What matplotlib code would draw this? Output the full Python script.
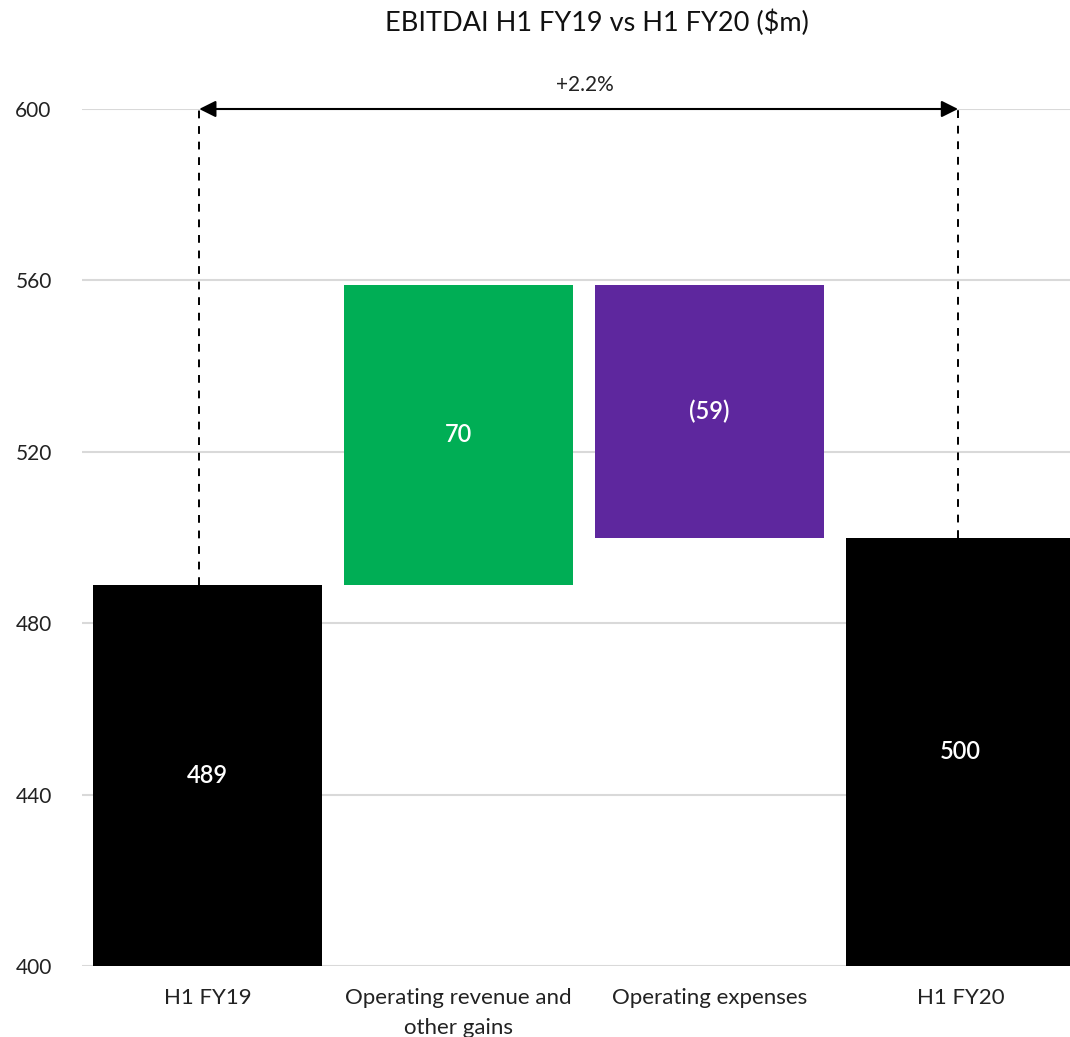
import matplotlib
matplotlib.use("Agg")
import matplotlib.pyplot as plt

plt.rcParams['font.family'] = ['Lato', 'DejaVu Sans']

# Waterfall data ($m)
categories = ["H1 FY19", "Operating revenue and\nother gains", "Operating expenses", "H1 FY20"]
opening = 489
revenue_change = 70
expense_change = -59
closing = 500
bar_labels = ["489", "70", "(59)", "500"]
change_label = "+2.2%"

bottoms = [400, opening, opening + revenue_change + expense_change, 400]
heights = [opening - 400, revenue_change, -expense_change, closing - 400]
colors = ["#000000", "#00AE55", "#5E279E", "#000000"]

fig = plt.figure(figsize=(10.70, 10.37), dpi=100)
ax = fig.add_axes([82 / 1070, 71 / 1037, 1 - 82 / 1070, (966 - 109) / 1037])

x = list(range(len(categories)))
ax.bar(x, heights, bottom=bottoms, width=0.91, color=colors, zorder=3)

for xi, b, h, lab in zip(x, bottoms, heights, bar_labels):
    ax.text(xi, b + h / 2, lab, ha="center", va="center", color="white",
            fontsize=17, fontweight="semibold", zorder=4)

# Dashed connectors and comparison arrow at the top of the chart
top = 600
xa, xb = -0.033, 2.99
ax.plot([xa, xa], [opening, top], ls=(0, (4, 4)), color="black", lw=1.4, zorder=4)
ax.plot([xb, xb], [closing, top], ls=(0, (4, 4)), color="black", lw=1.4, zorder=4)
ax.annotate("", xy=(xa, top), xytext=(xb, top),
            arrowprops=dict(arrowstyle="<|-|>", color="black", lw=1.5,
                            mutation_scale=25, shrinkA=0, shrinkB=0), zorder=5)
ax.text((xa + xb) / 2 + 0.025, top + 5.6, change_label, ha="center", va="center",
        fontsize=15, color="#222222")

ax.set_xlim(-0.5, 3.436)
ax.set_ylim(400, 600)
ax.set_yticks([400, 440, 480, 520, 560, 600])
ax.yaxis.grid(True, color="#D9D9D9", lw=1.5, zorder=0)
ax.set_axisbelow(True)
ax.set_xticks(x)
ax.set_xticklabels(categories, fontsize=16, color="#222222", linespacing=1.6)
ax.tick_params(axis="y", labelsize=15, labelcolor="#222222", pad=48, length=0)
ax.tick_params(axis="x", length=0, pad=16)
for lab in ax.get_yticklabels():
    lab.set_horizontalalignment("left")
for s in ax.spines.values():
    s.set_visible(False)

fig.text(597 / 1070, 1 - 23 / 1037, "EBITDAI H1 FY19 vs H1 FY20 ($m)",
         ha="center", va="center", fontsize=19.5, color="#111111")

fig.savefig("out.png", dpi=100, facecolor="white")
